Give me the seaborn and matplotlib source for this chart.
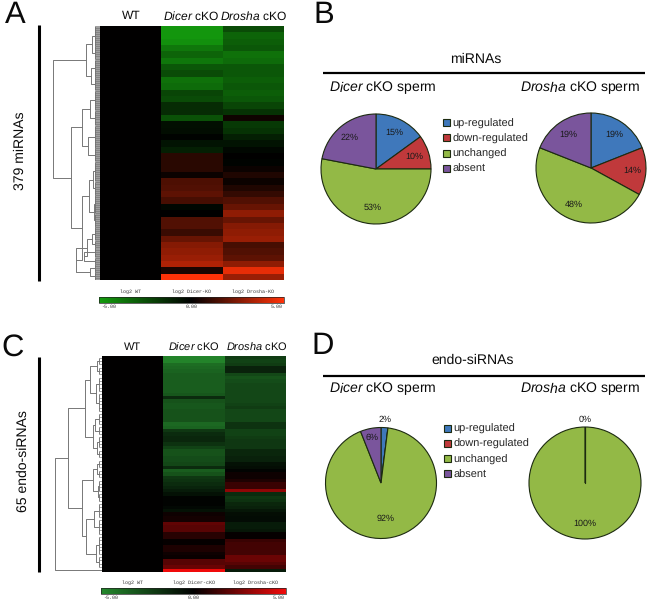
import numpy as np
import pandas as pd
import seaborn as sns
import matplotlib.pyplot as plt
from matplotlib.colors import LinearSegmentedColormap

W, H = 648, 599

# heatmap rows, log2 values
dicer_a = [-4.8, -4.8, -4.6, -3.8, -3.2, -3.8, -2.8, -2.4, -3.6, -3.4,
           -2.2, -2.4, -1.4, -1.4, -2.6, -0.5, -0.4, -0.1, -0.6, -1.0,
           0.8, 0.8, 0.8, 0.2, 1.5, 1.6, 1.8, 1.4, -0.2, 0.0,
           1.6, 1.6, 1.1, 2.0, 2.6, 2.8, 3.0, 3.4, 0.5, 5.0]
drosha_a = [-2.4, -3.2, -3.0, -2.8, -3.6, -3.4, -2.8, -2.8, -3.0, -2.8,
            -3.0, -2.8, -2.2, -1.6, 0.3, -1.8, -1.6, -1.0, -0.6, -0.2,
            0.0, -0.1, 0.2, 0.6, 0.2, 0.6, 1.0, 1.6, 2.0, 2.8,
            2.0, 2.6, 2.8, 3.0, 1.4, 1.6, 1.8, 2.8, 4.5, 3.0]
dicer_c = [-4.8, -4.8, -4.0, -3.8, -3.6, -3.4, -3.4, -3.4, -3.4, -3.4,
           -3.4, -3.2, -1.6, -3.0, -3.2, -3.2, -3.0, -3.0, -3.0, -3.0,
           -3.8, -3.6, -2.0, -1.6, -1.4, -1.4, -1.8, -2.4, -3.0, -3.0,
           -2.8, -2.8, -2.6, -1.6, -3.4, -3.0, -2.0, -1.8, -1.6, -1.3,
           -1.0, -0.6, -0.1, -0.1, -0.1, -0.3, -0.6, 0.3, 0.4, 0.4,
           2.0, 1.8, 1.8, 0.8, 0.8, 0.1, 0.1, 0.6, 0.6, 0.3,
           0.2, 1.8, 1.8, 2.2, 5.0]
drosha_c = [-2.2, -2.4, -2.2, -1.2, -1.2, -2.6, -3.0, -2.8, -2.6, -2.6,
            -2.6, -2.6, -2.6, -2.6, -2.4, -2.2, -2.6, -2.6, -2.6, -2.6,
            -1.8, -1.8, -2.4, -2.4, -2.2, -2.0, -2.0, -2.0, -1.4, -1.4,
            -1.2, -1.2, -0.6, -0.5, -0.1, 0.3, 0.3, 0.6, 1.2, 1.2,
            3.0, -1.6, -2.0, -1.8, -1.4, -1.2, -0.8, -0.5, -0.4, -0.4,
            -1.0, -1.0, -0.8, 0.1, 0.1, 1.2, 1.4, 1.4, 1.4, 1.4,
            2.2, 2.2, 1.8, 1.4, -1.0]

# dendrograms: [merge distance, child, child], a plain number is a run of leaves
tree_a = [47, [14, [8, 30, 20], [9, 26, 20]],
          [29, [18, [10, 30, 22], [12, 34, 20]],
           [18, [11, [7, 30, 20], [6, 28, 20]],
            [24, [13, [8, 20, 10], [16, 15, 10]], [10, 12, 12]]]]]
tree_c = [47, [34, [17, [12, [5, 3, 3], [6, 5, 6]], [9, [7, 4, 3], [5, 4, 3]]],
               [20, [9, [5, 3, 3], [4, 4, 3]], [16, [8, 5, 5], [6, [3, 3, 3], 4]]]], 1]

# pies
pie_labels = ['up-regulated', 'down-regulated', 'unchanged', 'absent']
pie_colors = ['#3f78bb', '#c0393b', '#93b946', '#7a559c']
mirna_dicer = [15, 10, 53, 22]
mirna_drosha = [19, 14, 48, 19]
sirna_dicer = [2, 0, 92, 6]
sirna_drosha = [0, 0, 100, 0]

sns.set_theme(style='white')
plt.rcParams['font.family'] = ['Liberation Sans', 'DejaVu Sans']
plt.rcParams['mathtext.fontset'] = 'custom'
plt.rcParams['mathtext.rm'] = 'Liberation Sans'
plt.rcParams['mathtext.it'] = 'Liberation Sans:italic'
plt.rcParams['text.hinting'] = 'no_hinting'
plt.rcParams['text.hinting_factor'] = 1

fig = plt.figure(figsize=(W / 100, H / 100), dpi=100)


def ax_px(x0, y0, x1, y1):
    return fig.add_axes([x0 / W, 1 - y1 / H, (x1 - x0) / W, (y1 - y0) / H])


def text_px(x, y, s, **kw):
    kw.setdefault('ha', 'center')
    kw.setdefault('va', 'center')
    kw.setdefault('color', '#0a0a0a')
    fig.text(x / W, 1 - y / H, s, **kw)


def line_px(xs, ys, lw):
    fig.add_artist(plt.Line2D([x / W for x in xs], [1 - y / H for y in ys],
                              color='black', lw=lw, solid_capstyle='butt'))


def draw_tree(ax, node, start, comb):
    # returns (distance, row position, next free row)
    if not isinstance(node, list):
        rows = np.arange(node) + start + 0.5
        if node == 1:
            return 0, rows[0], start + 1
        ax.hlines(rows, 0, comb, color='#777777', lw=0.5)
        ax.vlines(comb, rows[0], rows[-1], color='#666666', lw=0.6)
        return comb, rows.mean(), start + node
    d1, y1, nxt = draw_tree(ax, node[1], start, comb)
    d2, y2, nxt = draw_tree(ax, node[2], nxt, comb)
    d = node[0]
    ax.plot([d1, d, d, d2], [y1, y1, y2, y2], color='#777777', lw=0.7)
    return d, (y1 + y2) / 2, nxt


def heat_panel(x0, y0, x1, y1, cb_y, dicer, drosha, tree, cmap, names, comb):
    ax = ax_px(x0, y0, x1, y1)
    cax = ax_px(x0 - 1, cb_y, x1, cb_y + 6)
    df = pd.DataFrame({'WT': [0.0] * len(dicer), 'Dicer': dicer, 'Drosha': drosha})
    sns.heatmap(df, ax=ax, cmap=cmap, vmin=-5, vmax=5, xticklabels=False, yticklabels=False,
                cbar_ax=cax, cbar_kws={'orientation': 'horizontal'})
    cax.set_xticks([])
    cb = ax.collections[0].colorbar
    cb.outline.set_visible(True)
    cb.outline.set_edgecolor('#222222')
    cb.outline.set_linewidth(0.5)

    den = ax_px(x0 - 52, y0, x0, y1)
    total = draw_tree(den, tree, 0, comb)[2]
    den.set_xlim(52, 0)
    den.set_ylim(total, 0)
    den.axis('off')

    cw = (x1 - x0) / 3
    small = {'fontsize': 3.9, 'family': 'Liberation Mono', 'color': '#333333'}
    for i, s in enumerate(names):
        text_px(x0 + cw * (i + 0.5), cb_y - 5.5, s, **small)
    text_px(x0 + 1, cb_y + 9.5, '-5.00', ha='left', **small)
    text_px((x0 + x1) / 2, cb_y + 9.5, '0.00', **small)
    text_px(x1 - 1, cb_y + 9.5, '5.00', ha='right', **small)


def pie_panel(cx, cy, r, values, radii):
    ax = ax_px(cx - r * 1.02, cy - r * 1.02, cx + r * 1.02, cy + r * 1.02)
    wedges, _ = ax.pie(values, colors=sns.color_palette(pie_colors), startangle=90, counterclock=False,
                       wedgeprops={'edgecolor': '#1c2a10', 'linewidth': 0.8})
    ax.set_xlim(-1.02, 1.02)
    ax.set_ylim(-1.02, 1.02)
    for w, v, rad in zip(wedges, values, radii):
        if rad is None:
            continue
        a = np.deg2rad((w.theta1 + w.theta2) / 2)
        ax.text(rad * np.cos(a), rad * np.sin(a), f'{v}%', ha='center', va='center',
                fontsize=6.6, color='#1a1a1a')
    return ax, wedges


green_red_a = LinearSegmentedColormap.from_list('a', ['#149c0e', '#000000', '#ff3208'])
green_red_c = LinearSegmentedColormap.from_list('c', ['#24882c', '#000000', '#f00a0a'])

heat_panel(100, 26, 284, 280, 297, dicer_a, drosha_a, tree_a, green_red_a,
           ['log2 WT', 'log2 Dicer-KO', 'log2 Drosha-KO'], 5)
heat_panel(102, 356, 286, 572, 588, dicer_c, drosha_c, tree_c, green_red_c,
           ['log2 WT', 'log2 Dicer-cKO', 'log2 Drosha-cKO'], 3)

# panel A / C headers
dicer_t = r'$\it{Dicer}$ cKO'
drosha_t = r'$\it{Drosha}$ cKO'
for y, xs, fs in [(16, (131, 191, 253), 8.6), (347, (132, 194, 257), 8.2)]:
    text_px(xs[0], y, 'WT', fontsize=fs)
    text_px(xs[1], y, dicer_t, fontsize=fs)
    text_px(xs[2], y, drosha_t, fontsize=fs)

line_px([39, 39], [25, 281], 2.2)
line_px([39, 39], [357, 572], 2.2)
text_px(20, 151, '379 miRNAs', rotation=90, fontsize=10.2)
text_px(23, 461.5, '65 endo-siRNAs', rotation=90, fontsize=10.2)

for s, x, y in [('A', 15, 15), ('B', 323.5, 15), ('C', 13, 348), ('D', 323, 346)]:
    text_px(x, y, s, fontsize=22)

# panel B
text_px(476, 59, 'miRNAs', fontsize=10)
line_px([323, 645], [72.5, 72.5], 1.6)
text_px(383, 88, r'$\it{Dicer}$ cKO sperm', fontsize=10.2)
text_px(580, 88, r'$\it{Drosha}$ cKO sperm', fontsize=10.2)
_, w_b = pie_panel(376, 169, 55, mirna_dicer, [0.74, 0.74, 0.7, 0.75])
pie_panel(591, 168, 55, mirna_drosha, [0.74, 0.76, 0.74, 0.74])

# panel D
text_px(473, 360, 'endo-siRNAs', fontsize=10)
line_px([323, 645], [375.5, 375.5], 1.6)
text_px(383, 389.5, r'$\it{Dicer}$ cKO sperm', fontsize=10.2)
text_px(580, 389.5, r'$\it{Drosha}$ cKO sperm', fontsize=10.2)
_, w_d = pie_panel(381, 483, 55.5, sirna_dicer, [1.15, None, 0.64, 0.83])
ax_r, _ = pie_panel(585, 483, 56, sirna_drosha, [1.13, None, 0.73, None])
ax_r.plot([0, 0], [0, 1], color='#1c2a10', lw=0.9)

for wedges, lx, ly in [(w_b, 443, 118.5), (w_d, 444, 424)]:
    fig.legend(wedges, pie_labels, loc='upper left', bbox_to_anchor=(lx / W, 1 - ly / H),
               frameon=False, fontsize=7.8, handlelength=0.6, handleheight=0.6,
               handletextpad=0.25, labelspacing=0.46, borderpad=0, borderaxespad=0)

fig.savefig('out.png', dpi=100)
